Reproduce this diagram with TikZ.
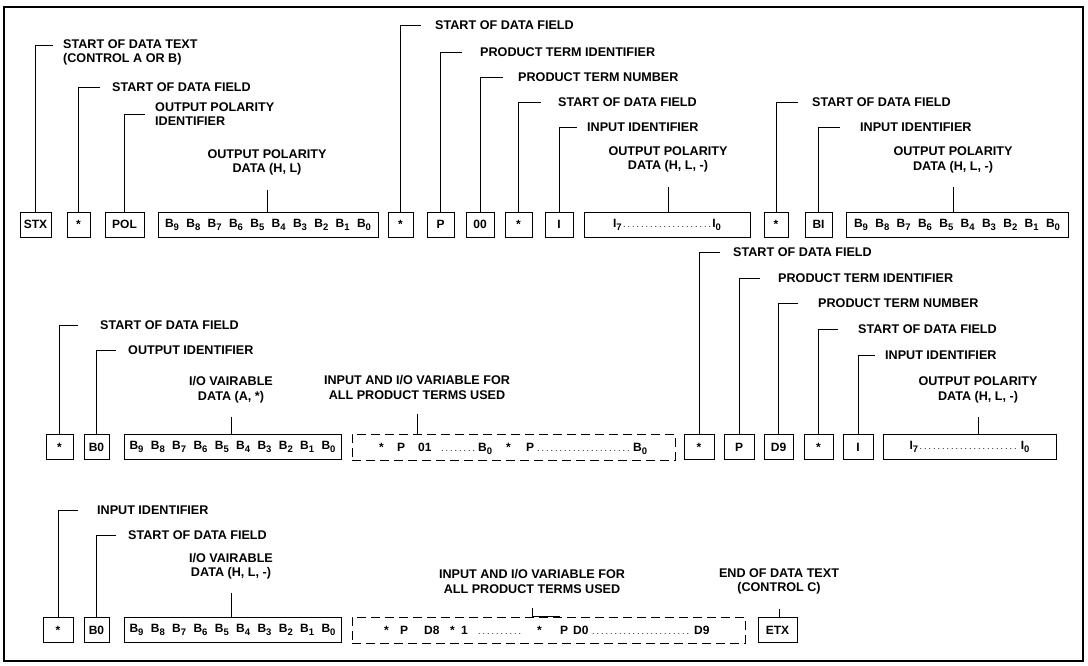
\documentclass[tikz,border=0pt]{standalone}
\usepackage{fontspec}
\setmainfont{Liberation Sans}
\newcommand\labfont{\fontsize{12.6}{14.5}\selectfont\bfseries}
\newcommand\boxfont{\fontsize{12}{13}\selectfont\bfseries}
\newcommand\sbs[1]{\raisebox{-3pt}{\fontsize{9.5}{9.5}\selectfont #1}}
\newcommand\dotrun[1]{\hbox to #1pt{\leaders\hbox to 4.5pt{\hss{\mdseries\fontsize{9}{9}\selectfont.}\hss}\hfill}}
\newcommand\blist{\makebox[206pt][s]{B\sbs{9} B\sbs{8} B\sbs{7} B\sbs{6} B\sbs{5} B\sbs{4} B\sbs{3} B\sbs{2} B\sbs{1} B\sbs{0}}}
\newcommand\irun[1]{\hbox to #1pt{I\sbs{7}\leaders\hbox to 4.5pt{\hss{\mdseries\fontsize{9}{9}\selectfont.}\hss}\hfill I\sbs{0}}}
\tikzset{
  lab/.style={font=\labfont, inner sep=0pt, align=left, anchor=west},
  labc/.style={font=\labfont, inner sep=0pt, align=center},
  bx/.style={draw, line width=0.9pt, minimum height=25pt, inner sep=0pt, font=\boxfont},
  dbx/.style={draw, dash pattern=on 9pt off 5pt, line width=0.9pt, minimum height=26pt, inner sep=0pt},
  ld/.style={line width=0.8pt},
  itm/.style={font=\boxfont, inner sep=0pt, anchor=base west},
}
\begin{document}
\begin{tikzpicture}[x=1pt,y=-1pt]
\useasboundingbox (0,0) rectangle (1088,665);
\draw[line width=1.2pt] (4,7) rectangle (1083,661);

% ---------------- Row 1 ----------------
\node[bx, minimum width=31pt] (stx) at (35.5,224.5) {STX};
\node[bx, minimum width=23pt] (s1) at (78.5,224.5) {*};
\node[bx, minimum width=39pt] (pol) at (124.5,224.5) {POL};
\node[bx, minimum width=220pt] (b1) at (268,224.5) {\blist};
\node[bx, minimum width=25pt] (s2) at (400.5,224.5) {*};
\node[bx, minimum width=27pt] (p1) at (440.5,224.5) {P};
\node[bx, minimum width=28pt] (n00) at (480,224.5) {00};
\node[bx, minimum width=27pt] (s3) at (518.5,224.5) {*};
\node[bx, minimum width=28pt] (i1) at (559,224.5) {I};
\node[bx, minimum width=166pt] (ib1) at (667,224.5) {\irun{108}};
\node[bx, minimum width=24pt] (s4) at (776,224.5) {*};
\node[bx, minimum width=27pt] (bi) at (818.5,224.5) {BI};
\node[bx, minimum width=222pt] (b2) at (957,224.5) {\blist};

\node[lab] (lstx) at (63,52.5) {START OF DATA TEXT\\(CONTROL A OR B)};
\node[lab] (ls1) at (112,87) {START OF DATA FIELD};
\node[lab] (lpol) at (155,114) {OUTPUT POLARITY\\IDENTIFIER};
\node[labc] (lb1) at (267,162.5) {OUTPUT POLARITY\\DATA (H, L)};
\node[lab] (ls2) at (435,25) {START OF DATA FIELD};
\node[lab] (lp1) at (480,52) {PRODUCT TERM IDENTIFIER};
\node[lab] (ln00) at (518,77) {PRODUCT TERM NUMBER};
\node[lab] (ls3) at (558,102) {START OF DATA FIELD};
\node[lab] (li1) at (587,127) {INPUT IDENTIFIER};
\node[labc] (lib1) at (668,159.5) {OUTPUT POLARITY\\DATA (H, L, -)};
\node[lab] (ls4) at (812,102) {START OF DATA FIELD};
\node[lab] (lbi) at (860,127) {INPUT IDENTIFIER};
\node[labc] (lb2) at (953,160) {OUTPUT POLARITY\\DATA (H, L, -)};

\draw[ld] (stx.north) |- ([xshift=-10pt,yshift=7.25pt]lstx.west);
\draw[ld] (s1.north) |- ([xshift=-12pt]ls1.west);
\draw[ld] (pol.north) |- ([xshift=-10pt]lpol.west);
\draw[ld] ([yshift=-14pt]lb1.south) -- (lb1.south |- b1.north);
\draw[ld] (s2.north) |- ([xshift=-14pt]ls2.west);
\draw[ld] (p1.north) |- ([xshift=-18pt]lp1.west);
\draw[ld] (n00.north) |- ([xshift=-15pt]ln00.west);
\draw[ld] (s3.north) |- ([xshift=-17pt]ls3.west);
\draw[ld] (i1.north) |- ([xshift=-10pt]li1.west);
\draw[ld] ([yshift=-14pt]lib1.south) -- (lib1.south |- ib1.north);
\draw[ld] (s4.north) |- ([xshift=-14pt]ls4.west);
\draw[ld] (bi.north) |- ([xshift=-20pt]lbi.west);
\draw[ld] ([yshift=-14pt]lb2.south) -- (lb2.south |- b2.north);

% ---------------- Row 2 ----------------
\node[bx, minimum width=27pt] (s5) at (59.5,447) {*};
\node[bx, minimum width=25pt] (b0a) at (96.5,447) {B0};
\node[bx, minimum width=217pt] (b3) at (232.5,447) {\blist};
\node[dbx, minimum width=323pt] (d1) at (513.5,447) {};
\node[bx, minimum width=30pt] (s6) at (699,447) {*};
\node[bx, minimum width=30pt] (p2) at (739,447) {P};
\node[bx, minimum width=29pt] (d9) at (778.5,447) {D9};
\node[bx, minimum width=29pt] (s7) at (818.5,447) {*};
\node[bx, minimum width=30pt] (i2) at (858,447) {I};
\node[bx, minimum width=173pt] (ib2) at (969.5,447) {\irun{120}};

\node[itm] (da1) at (379,451) {*};
\node[itm] (da2) at (397,451) {P};
\node[itm] (da3) at (418,451) {01};
\node[itm] (da4) at (440,451) {\dotrun{36}};
\node[itm] (da5) at (478,451) {B\sbs{0}};
\node[itm] (da6) at (506,451) {*};
\node[itm] (da7) at (526,451) {P};
\node[itm] (da8) at (536,451) {\dotrun{96}};
\node[itm] (da9) at (633,451) {B\sbs{0}};

\node[lab] (ls5) at (100,325) {START OF DATA FIELD};
\node[lab] (lb0a) at (128,350) {OUTPUT IDENTIFIER};
\node[labc] (lb3) at (231,389.5) {I/O VAIRABLE\\DATA (A, *)};
\node[labc] (ld1) at (417,387.5) {INPUT AND I/O VARIABLE FOR\\ALL PRODUCT TERMS USED};
\node[lab] (ls6) at (733,252) {START OF DATA FIELD};
\node[lab] (lp2) at (778,278) {PRODUCT TERM IDENTIFIER};
\node[lab] (ld9) at (818,303) {PRODUCT TERM NUMBER};
\node[lab] (ls7) at (858,329) {START OF DATA FIELD};
\node[lab] (li2) at (885,355) {INPUT IDENTIFIER};
\node[labc] (lib2) at (978,390) {OUTPUT POLARITY\\DATA (H, L, -)};

\draw[ld] (s5.north) |- ([xshift=-22pt]ls5.west);
\draw[ld] (b0a.north) |- ([xshift=-12pt]lb0a.west);
\draw[ld] ([yshift=-14pt]lb3.south) -- (lb3.south |- b3.north);
\draw[ld] ([yshift=-14pt]ld1.south) -- (ld1.south |- d1.north);
\draw[ld] (s6.north) |- ([xshift=-13pt]ls6.west);
\draw[ld] (p2.north) |- ([xshift=-18pt]lp2.west);
\draw[ld] (d9.north) |- ([xshift=-20pt]ld9.west);
\draw[ld] (s7.north) |- ([xshift=-20pt]ls7.west);
\draw[ld] (i2.north) |- ([xshift=-10pt]li2.west);
\draw[ld] ([yshift=-14pt]lib2.south) -- (lib2.south |- ib2.north);

% ---------------- Row 3 ----------------
\node[bx, minimum width=30pt] (s8) at (58,630) {*};
\node[bx, minimum width=25pt] (b0b) at (96.5,630) {B0};
\node[bx, minimum width=217pt] (b4) at (232.5,630) {\blist};
\node[dbx, minimum width=393pt] (d2) at (548.5,630) {};
\node[bx, minimum width=39pt] (etx) at (777.5,630) {ETX};

\node[itm] (db1) at (384,634) {*};
\node[itm] (db2) at (400,634) {P};
\node[itm] (db3) at (424,634) {D8};
\node[itm] (db4) at (450,634) {*};
\node[itm] (db5) at (461,634) {1};
\node[itm] (db6) at (477,634) {\dotrun{45}};
\node[itm] (db7) at (537,634) {*};
\node[itm] (db8) at (560,634) {P};
\node[itm] (db9) at (573,634) {D0};
\node[itm] (db10) at (591,634) {\dotrun{102}};
\node[itm] (db11) at (694,634) {D9};

\node[lab] (ls8) at (97,510) {INPUT IDENTIFIER};
\node[lab] (lb0b) at (128,535) {START OF DATA FIELD};
\node[labc] (lb4) at (231,566) {I/O VAIRABLE\\DATA (H, L, -)};
\node[labc] (ld2) at (532,581.5) {INPUT AND I/O VARIABLE FOR\\ALL PRODUCT TERMS USED};
\node[labc] (letx) at (779,581.5) {END OF DATA TEXT\\(CONTROL C)};

\draw[ld] (s8.north) |- ([xshift=-19pt]ls8.west);
\draw[ld] (b0b.north) |- ([xshift=-12pt]lb0b.west);
\draw[ld] ([yshift=-14pt]lb4.south) -- (lb4.south |- b4.north);
\draw[ld] ([yshift=-14pt]ld2.south) -- (ld2.south |- d2.north) -- ([xshift=28pt]ld2.south |- d2.north);
\draw[ld] ([yshift=-14pt]letx.south) -- (letx.south |- etx.north);
\end{tikzpicture}
\end{document}
